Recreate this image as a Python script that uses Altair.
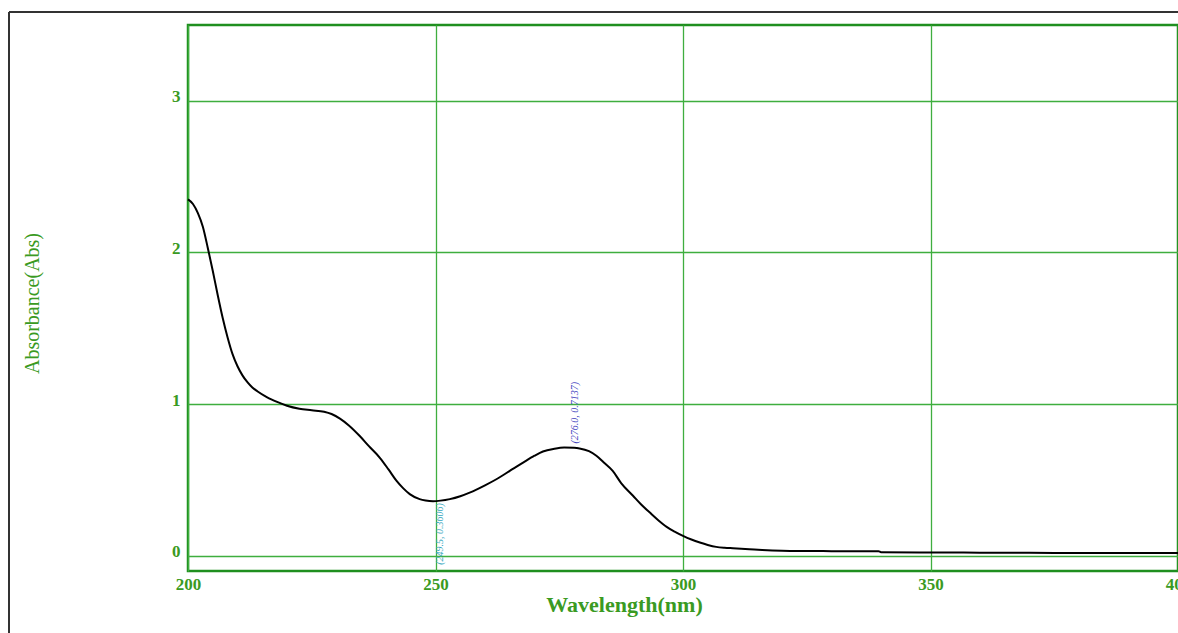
import altair as alt
import pandas as pd

wavelength = [200, 201, 202, 203, 204, 205, 206, 207, 208, 209, 210, 211, 212, 213, 214, 216, 218, 220,
              222.5, 225, 227.5, 229, 230.7, 232.5, 234.7, 236.5, 238.8, 240.5, 242.1, 243.5, 244.8, 246.8,
              248, 249.5, 251, 252.9, 255, 256.9, 260, 262.3, 265, 267.7, 270, 271.7, 274, 276, 278, 279.1,
              281, 282.5, 284, 285.8, 287.5, 289.9, 291.5, 293.3, 295, 296.7, 298.3, 300, 301.7, 303.4, 305,
              306.7, 308.4, 310.1, 313.4, 316, 320, 325, 330, 335, 339.5, 340, 350, 360, 370, 380, 390, 400]
absorbance = [2.35, 2.32, 2.26, 2.17, 2.03, 1.88, 1.72, 1.57, 1.44, 1.33, 1.25, 1.19, 1.145, 1.11, 1.085, 1.045,
              1.015, 0.99, 0.97, 0.96, 0.95, 0.935, 0.905, 0.86, 0.79, 0.725, 0.645, 0.57, 0.496, 0.445,
              0.407, 0.374, 0.365, 0.3606, 0.364, 0.374, 0.393, 0.417, 0.465, 0.505, 0.56, 0.615, 0.66,
              0.688, 0.706, 0.7137, 0.712, 0.708, 0.69, 0.66, 0.615, 0.56, 0.48, 0.396, 0.34, 0.285, 0.235,
              0.191, 0.16, 0.132, 0.108, 0.088, 0.072, 0.059, 0.053, 0.05, 0.044, 0.039, 0.034, 0.032,
              0.031, 0.03, 0.03, 0.024, 0.022, 0.021, 0.02, 0.019, 0.018, 0.018]

peak_labels = ["(276.0, 0.7137)"]
peak_x = [276.0]
peak_y = [0.7137]
valley_labels = ["(249.5, 0.3606)"]
valley_x = [249.5]
valley_y = [0.3606]

x_ticks = [200, 250, 300, 350, 400]
y_ticks = [0, 1, 2, 3]

GREEN = "#1f8f1f"
LABEL = "#3a9a22"

df = pd.DataFrame({"wl": wavelength, "abs": absorbance})
peak_df = pd.DataFrame({"wl": peak_x, "abs": peak_y, "label": peak_labels})
valley_df = pd.DataFrame({"wl": valley_x, "abs": valley_y, "label": valley_labels})

xs = alt.Scale(domain=[200, 400], nice=False, zero=False)
ys = alt.Scale(domain=[-0.1, 3.5], nice=False, zero=False)

x_axis = alt.Axis(values=x_ticks, format="d", title="Wavelength(nm)", grid=True, ticks=False, domain=False,
                  labelFont="Liberation Serif", labelFontSize=17, labelFontWeight="bold",
                  labelColor=LABEL, labelPadding=5, labelFlush=False,
                  titleFont="Liberation Serif", titleFontSize=22, titleFontWeight="bold",
                  titleColor=LABEL, titleX=436, titleY=23, titleAlign="center", titleBaseline="top")
y_axis = alt.Axis(values=y_ticks, format="d", title="Absorbance(Abs)", grid=True, ticks=False, domain=False,
                  labelFont="Liberation Serif", labelFontSize=17, labelFontWeight="bold",
                  labelColor=LABEL, labelPadding=8, labelOffset=-4, labelFlush=False,
                  titleFont="Liberation Serif", titleFontSize=20, titleFontWeight="normal",
                  titleColor=LABEL, titleX=-156, titleY=278, titleAlign="center",
                  titleBaseline="middle", titleAngle=270)

line = alt.Chart(df).mark_line(color="black", strokeWidth=2, interpolate="monotone").encode(
    x=alt.X("wl:Q", scale=xs, axis=x_axis),
    y=alt.Y("abs:Q", scale=ys, axis=y_axis),
)

peak_text = alt.Chart(peak_df).mark_text(
    angle=270, align="left", baseline="middle", dx=4, dy=11, fontSize=10,
    font="Liberation Serif", fontStyle="italic", color="#4545c0"
).encode(x=alt.X("wl:Q", scale=xs), y=alt.Y("abs:Q", scale=ys), text="label:N")

valley_text = alt.Chart(valley_df).mark_text(
    angle=270, align="right", baseline="middle", dx=-2, dy=7, fontSize=10,
    font="Liberation Serif", fontStyle="italic", color="#3aa8c0"
).encode(x=alt.X("wl:Q", scale=xs), y=alt.Y("abs:Q", scale=ys), text="label:N")

frame_left = alt.Chart(df).mark_rule(color="#333333", strokeWidth=1.5).encode(
    x=alt.value(-179), y=alt.value(-13), y2=alt.value(620))
frame_top = alt.Chart(df).mark_rule(color="#333333", strokeWidth=1.5).encode(
    x=alt.value(-179), x2=alt.value(1000), y=alt.value(-13))

chart = alt.layer(line, peak_text, valley_text, frame_left, frame_top).properties(
    width=990, height=546,
    autosize=alt.AutoSizeParams(type="none"),
    padding={"left": 188, "top": 25, "right": 0, "bottom": 62},
    background="white",
).configure_view(stroke=GREEN, strokeWidth=2.5).configure_axis(
    gridColor="#3fae3f", gridWidth=1.3, gridOpacity=1
)

chart.save("out.html", embed_options={"renderer": "svg", "actions": False})
